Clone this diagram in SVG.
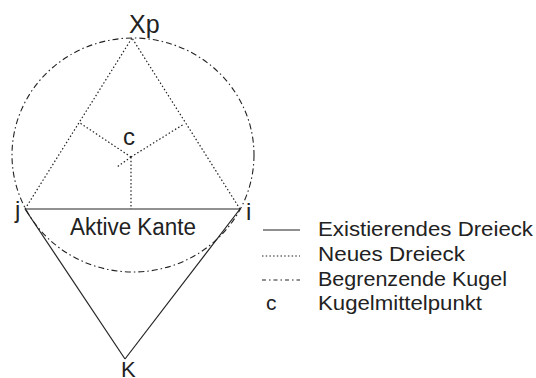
<svg xmlns="http://www.w3.org/2000/svg" width="536" height="378" viewBox="0 0 536 378">
<style>
.solid{stroke:#222;stroke-width:1.2;fill:none}
.dot{stroke:#222;stroke-width:1.2;fill:none;stroke-dasharray:1.5 2.2}
.dashdot{stroke:#222;stroke-width:1.1;fill:none;stroke-dasharray:6 3 1.5 3}
text{font-family:"Liberation Sans",Arial,sans-serif;fill:#222}
.lbl{font-size:24px}
.leg{font-size:21px}
</style>
<rect width="536" height="378" fill="#fff"/>
<g id="connectors">
<ellipse class="dashdot" cx="133" cy="155" rx="121" ry="117"/>
<line class="solid" x1="25" y1="209" x2="240" y2="209"/>
<line class="solid" x1="25" y1="209" x2="125" y2="359"/>
<line class="solid" x1="240" y1="209" x2="125" y2="359"/>
<line class="dot" x1="25" y1="209" x2="132" y2="38"/>
<line class="dot" x1="240" y1="209" x2="132" y2="38"/>
<line class="dot" x1="131" y1="157" x2="80" y2="123"/>
<line class="dot" x1="131" y1="157" x2="184" y2="124"/>
<line class="dot" x1="131" y1="157" x2="131" y2="209"/>
<line class="dot" x1="131" y1="157" x2="117" y2="167"/>
</g>
<g id="node-Xp"><text class="lbl" x="129" y="33" style="font-size:25px">Xp</text></g>
<g id="node-c"><text class="lbl" x="123" y="145">c</text></g>
<g id="node-j"><text class="lbl" x="15" y="218">j</text></g>
<g id="node-i"><text class="lbl" x="246" y="220">i</text></g>
<g id="node-K"><text class="lbl" x="121" y="377" style="font-size:22px">K</text></g>
<g id="edge-label"><text x="70" y="235" style="font-size:23px" textLength="126" lengthAdjust="spacingAndGlyphs">Aktive Kante</text></g>
<g id="legend">
<line class="solid" x1="263" y1="230" x2="300" y2="230"/>
<text class="leg" x="318" y="236" textLength="215" lengthAdjust="spacingAndGlyphs">Existierendes Dreieck</text>
<line class="dot" x1="262" y1="256" x2="300" y2="256"/>
<text class="leg" x="318" y="261" textLength="147" lengthAdjust="spacingAndGlyphs">Neues Dreieck</text>
<line class="dashdot" x1="262" y1="280" x2="300" y2="280" style="stroke-dasharray:4 3 1.5 3"/>
<text class="leg" x="318" y="286" textLength="189" lengthAdjust="spacingAndGlyphs">Begrenzende Kugel</text>
<text class="leg" x="266" y="310">c</text>
<text class="leg" x="318" y="310" textLength="164" lengthAdjust="spacingAndGlyphs">Kugelmittelpunkt</text>
</g>
</svg>
